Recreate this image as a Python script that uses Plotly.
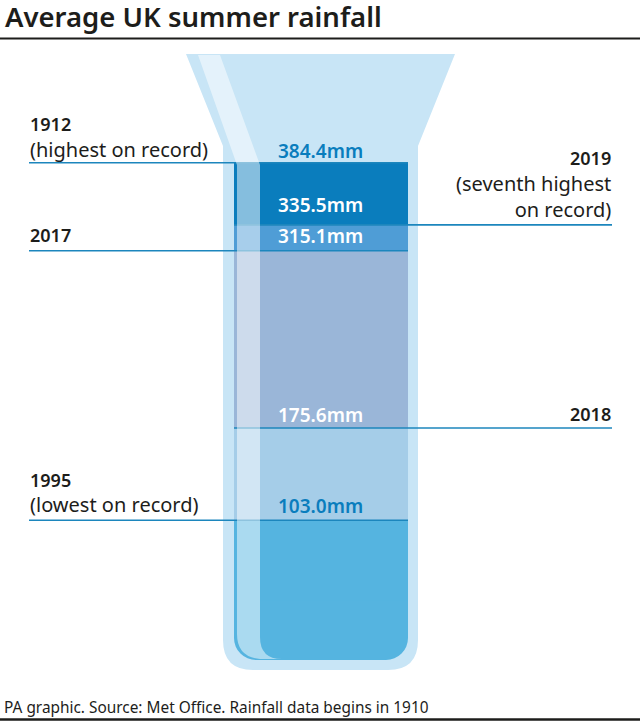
import plotly.graph_objects as pl

W = 640
H = 722

# rainfall levels in mm, lowest first
levels = [103.0, 175.6, 315.1, 335.5, 384.4]
level_labels = ['103.0mm', '175.6mm', '315.1mm', '335.5mm', '384.4mm']
# colour of the band that ends at each level, the first one is below 103.0
band_colors = ['#55b4e0', '#a5cde8', '#9ab6d8', '#4f9dd6', '#0a7dbd']

years = ['1995', '2018', '2017', '2019', '1912']
notes = ['(lowest on record)', '', '', '(seventh highest<br>on record)', '(highest on record)']

# axis scale: mm to pixels
px_per_mm = 1.27
zero_px = 651
floor_mm = (zero_px - 660) / px_per_mm


def px_x(x):
    return x / W


def px_y(y):
    return 1 - y / H


fig = pl.Figure()

# water bands, plotly rounds both ends of the bottom bar so its top gets covered
fig.add_trace(pl.Bar(x=[321], y=[levels[0] - floor_mm], base=[floor_mm], width=[174],
                     marker=dict(color=band_colors[0], cornerradius=22, line=dict(width=0)),
                     hoverinfo='skip', showlegend=False))
fig.add_trace(pl.Bar(x=[321], y=[levels[0] - 40], base=[40], width=[174],
                     marker=dict(color=band_colors[0], line=dict(width=0)),
                     hoverinfo='skip', showlegend=False))
for n in range(1, len(levels)):
    fig.add_trace(pl.Bar(x=[321], y=[levels[n] - levels[n-1]], base=[levels[n-1]], width=[174],
                         marker=dict(color=band_colors[n], line=dict(width=0)),
                         hoverinfo='skip', showlegend=False))

# the leader lines, left ones run over the tube, right ones start at the water
left_line = [29, 408]
right_line = [234, 612]
sides = ['left', 'right', 'left', 'right', 'left']
for n in range(0, len(levels)):
    xs = left_line if sides[n] == 'left' else right_line
    fig.add_trace(pl.Scatter(x=xs, y=[levels[n], levels[n]], mode='lines',
                             line=dict(color='#1c86bd', width=1.6),
                             hoverinfo='skip', showlegend=False))

# funnel and tube behind the water
tube = ('M 186,54 L 455,54 L 418,146 L 418,640 Q 418,670 388,670 L 253,670 '
        'Q 223,670 223,640 L 223,146 Z')
# white shine down the left side
shine = ('M 198,55 L 220,55 L 260,165 L 260,637 Q 260,659 282,659 L 260,659 '
         'Q 237,657 237,634 L 237,165 Z')


def to_paper(d):
    out = []
    for part in d.split(' '):
        if ',' in part:
            a, b = part.split(',')
            out.append('%.5f,%.5f' % (px_x(float(a)), px_y(float(b))))
        else:
            out.append(part)
    return ' '.join(out)


shapes = [
    dict(type='path', xref='paper', yref='paper', path=to_paper(tube),
         fillcolor='#c8e5f6', line=dict(width=0), layer='below'),
    dict(type='path', xref='paper', yref='paper', path=to_paper(shine),
         fillcolor='rgba(255,255,255,0.5)', line=dict(width=0), layer='above'),
    dict(type='line', xref='paper', yref='paper', x0=0, x1=1, y0=px_y(38.5), y1=px_y(38.5),
         line=dict(color='#1d1d1b', width=2)),
    dict(type='line', xref='paper', yref='paper', x0=0, x1=1, y0=px_y(719.5), y1=px_y(719.5),
         line=dict(color='#1d1d1b', width=2.5)),
]

FONT = 'Noto Sans'
annotations = []


def add_text(text, x, y, size, color='#1d1d1b', anchor='left', weight=400):
    annotations.append(dict(text=text, xref='paper', yref='paper', x=px_x(x), y=px_y(y),
                            xanchor=anchor, yanchor='middle', showarrow=False, align=anchor,
                            font=dict(family=FONT, size=size, color=color, weight=weight)))


add_text('PA graphic. Source: Met Office. Rainfall data begins in 1910', 2, 707, 15.4)

# value labels
label_y = [506, 415, 236, 205, 151]
label_colors = ['#0a7dbd', '#ffffff', '#ffffff', '#ffffff', '#0a7dbd']
for n in range(0, len(levels)):
    add_text(level_labels[n], 320, label_y[n], 19, color=label_colors[n], anchor='center', weight=600)

# year labels
year_y = [480, 414, 235, 158, 124]
note_y = [504, 0, 0, 196, 149]
for n in range(0, len(years)):
    if sides[n] == 'left':
        add_text(years[n], 28, year_y[n], 18, weight=600)
        if notes[n]:
            add_text(notes[n], 28, note_y[n], 20)
    else:
        add_text(years[n], 613, year_y[n], 18, anchor='right', weight=600)
        if notes[n]:
            add_text(notes[n], 613, note_y[n], 20, anchor='right')

fig.update_layout(
    title=dict(text='Average UK summer rainfall', x=px_x(5), y=px_y(17), xref='container', yref='container',
               xanchor='left', yanchor='middle', pad=dict(l=0, r=0, t=0, b=0),
               font=dict(family=FONT, size=27.5, color='#1d1d1b', weight=600)),
    width=W, height=H, margin=dict(l=0, r=0, t=0, b=0),
    paper_bgcolor='white', plot_bgcolor='rgba(0,0,0,0)',
    barmode='overlay', showlegend=False,
    shapes=shapes, annotations=annotations,
    xaxis=dict(range=[0, W], visible=False, fixedrange=True),
    yaxis=dict(range=[(zero_px - H) / px_per_mm, zero_px / px_per_mm], visible=False, fixedrange=True),
)

# the page body margin would push the figure off the window
fig.write_html('out.html', config=dict(displayModeBar=False),
               post_script="document.body.style.margin='0';")
